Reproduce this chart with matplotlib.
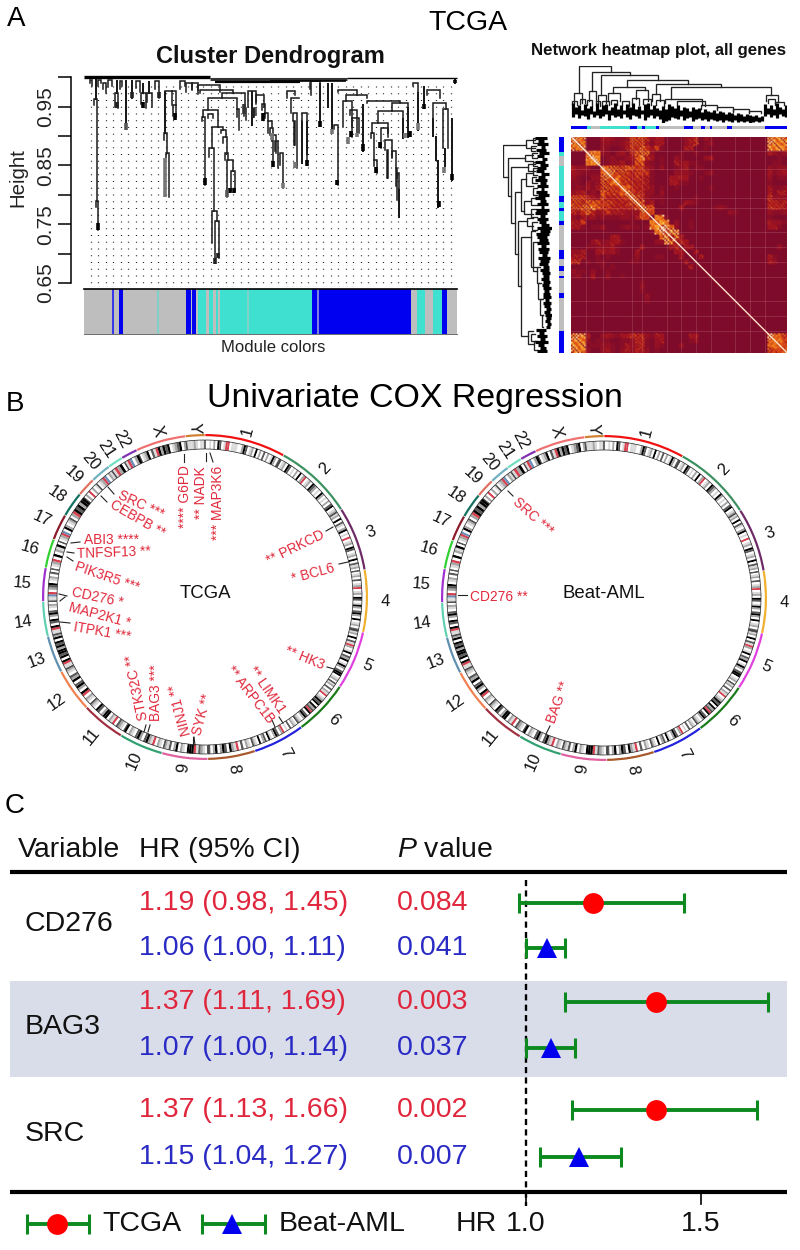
import numpy as np
import matplotlib
matplotlib.use("Agg")
import matplotlib.pyplot as plt
from matplotlib.colors import LinearSegmentedColormap

plt.rcParams['font.family'] = ['Liberation Sans', 'DejaVu Sans']
plt.rcParams['mathtext.fontset'] = 'custom'
plt.rcParams['mathtext.rm'] = 'Liberation Sans'
plt.rcParams['mathtext.it'] = 'Liberation Sans:italic'

W, H = 800, 1250
GRAY, TURQ, BLUE = '#BEBEBE', '#40E0D0', '#0000F0'

# ---------- panel A data: cluster dendrogram ----------
den_ticks = [0.65, 0.70, 0.75, 0.80, 0.85, 0.90, 0.95, 1.00]
den_ticklabels = ['0.65', '', '0.75', '', '0.85', '', '0.95', '']
# left leaf, right leaf, merge height, left end height, right end height
den_left = [
    (95.7,95.7,.997,.963,.963),(94.3,96.5,.963,.953,.789),(95.7,98.3,.789,.780,.740),
    (103,106,.990,.980,.973),(90,92,.995,.990,.986),(98,101,.996,.986,.990),
    (108,112,.995,.984,.986),(116.7,116.7,.995,.973,.973),(115,118,.973,.950,.947),
    (120,122,.993,.980,.985),(126,126,.995,.916,.916),(131.7,131.7,.995,.964,.964),
    (136,140,.993,.982,.975),(143.3,143.3,.990,.973,.973),(141,146,.973,.955,.947),
    (149,149,.993,.973,.973),(147,152,.973,.958,.950),(155,159,.993,.980,.964),
    (165,172,.976,.905,.976),(165,165,.976,.905,.905),(164,167.3,.905,.893,.871),
    (165.7,169,.871,.862,.797),(172,176,.976,.953,.953),(173,176,.953,.935,.933),
    (180,185,.993,.980,.985),(186,192,.990,.975,.980),(192,198,.990,.978,.972),
    (198,220,.987,.978,.975),(200,233,.978,.973,.973),(221.7,245,.973,.964,.947),
    (244,246,.947,.935,.928),(208.3,236.7,.964,.944,.946),(236.7,239.3,.946,.933,.910),
    (203.3,218.3,.944,.933,.916),(202.3,205,.933,.925,.817),(207.7,212.7,.938,.930,.930),
    (211.7,223.3,.916,.879,.910),(209.3,214,.879,.864,.772),(211.7,217.3,.772,.718,.755),
    (214.7,218.7,.755,.687,.692),(221,225.7,.910,.905,.899),(223.3,227.3,.899,.888,.871),
    (225,228.3,.871,.859,.860),(227.3,232.7,.860,.797,.840),(230.7,235,.840,.806,.806),
    (248,256,.976,.950,.955),(251.7,251.7,.976,.919,.919),(256,264,.970,.958,.950),
    (262,265,.955,.945,.938),(265,268,.940,.930,.925),(268,272,.925,.905,.915),
]
den_right = [
    (270,273.3,.913,.902,.851),(271.7,275.7,.902,.891,.871),(275,278.3,.891,.874,.845),
    (280,283,.872,.851,.811),(287,295,.976,.964,.970),(290.7,299.3,.964,.939,.964),
    (292.7,297.3,.939,.925,.845),(294,295.3,.925,.885,.885),(302.3,306.7,.939,.925,.854),
    (302.3,302.3,.925,.854,.854),(306.7,306.7,.925,.870,.870),(310,310,.980,.990,.980),
    (311,320,.993,.970,.973),(320,320,.990,.925,.925),(328,328,.990,.950,.950),
    (332.3,332.3,.990,.912,.912),(334.3,337.7,.919,.912,.817),(338.3,357.3,.979,.975,.970),
    (346,366.7,.970,.959,.964),(343.3,351.7,.959,.915,.899),(350,356.7,.944,.936,.905),
    (352,358.7,.930,.915,.905),(363.3,363.3,.955,.875,.875),(366.7,400,.960,.956,.956),
    (391.7,408.3,.956,.942,.950),(378.3,403.3,.942,.922,.930),(371.7,388.3,.922,.905,.905),
    (371,374,.905,.896,.860),(374,377,.860,.850,.837),(380.7,388.3,.913,.879,.899),
    (385,391.7,.893,.876,.865),(386.7,388,.876,.828,.828),(391.7,396,.875,.862,.845),
    (396,397.3,.845,.815,.828),(397.3,399,.837,.792,.792),(399,399.3,.810,.762,.762),
    (403.3,403.3,.930,.896,.896),(408.3,408.3,.950,.899,.899),(413,418,.990,.985,.970),
    (418.3,418.3,.975,.910,.910),(424,424,.985,.950,.950),(427,440,.978,.970,.965),
    (433.3,446,.956,.913,.946),(433.3,433.3,.930,.900,.900),(436,436,.900,.860,.860),
    (438,438,.860,.780,.780),(443,448,.946,.880,.880),(445,445,.880,.850,.850),
    (451.7,451.7,.930,.825,.825),(455,455,.999,.990,.990),
]
# leaf tip: position, upper height, lower height, darkness
den_tips = [(98.3,.752,.740,'k'),(116.7,.958,.947,'#222'),(126,.922,.910,'#555'),(131.7,.975,.964,'#222'),
            (143.3,.958,.947,'k'),(159,.975,.964,'#222'),(175,.940,.928,'k'),(165,.862,.797,'#777'),
            (204.5,.828,.817,'k'),(218,.702,.692,'#222'),(215,.692,.682,'#222'),(230,.812,.803,'k'),
            (233.5,.812,.803,'k'),(227,.808,.797,'#555'),(244,.955,.938,'#333'),(255,.950,.935,'#555'),
            (253,.948,.930,'#222'),(263,.940,.925,'k'),(272,.905,.893,'#777'),(273.5,.858,.848,'k'),
            (282.7,.820,.811,'#777'),(295,.856,.845,'#777'),(307,.860,.850,'k'),(320,.925,.915,'k'),
            (332.3,.912,.904,'#777'),(337,.826,.817,'k'),(348,.898,.886,'#777'),(351,.908,.898,'k'),
            (357,.905,.898,'#777'),(363.3,.886,.875,'k'),(376,.848,.838,'k'),(380.5,.890,.880,'k'),
            (405,.906,.896,'#777'),(410,.908,.899,'k'),(424,.955,.946,'k'),(418.3,.922,.910,'#777'),
            (439,.790,.780,'k'),(444.5,.848,.838,'#777'),(451.7,.836,.825,'k'),(455,.995,.990,'k')]
den_top_bars = [(84,210,1.0,'k',2.4),(210,347,.997,'#333',2.2),(347,457,.999,'k',1.0),(215,300,.992,'k',1.6),(270,346,.994,'k',1.2)]
den_guides_first, den_guides_step, den_guides_last = 90.7, 7.5, 458
den_bar = [(83.5,111.7,GRAY),(111.7,113.7,'#3838E8'),(113.7,118.7,GRAY),(118.7,122.7,BLUE),(122.7,156.7,GRAY),
           (156.7,159.3,'#7FD0C8'),(159.3,185.7,GRAY),(185.7,190.7,BLUE),(190.7,192,GRAY),(192,196,BLUE),
           (196,198.3,GRAY),(198.3,205.7,TURQ),(205.7,209.3,GRAY),(209.3,213.3,TURQ),(213.3,216,GRAY),
           (216,217.5,TURQ),(217.5,220,GRAY),(220,246.7,TURQ),(246.7,249,'#7FD0C8'),(249,311.7,TURQ),
           (311.7,316.7,BLUE),(316.7,319.3,'#8080E0'),(319.3,410.7,BLUE),(410.7,416.7,GRAY),(416.7,425,TURQ),
           (425,433.3,GRAY),(433.3,442.3,TURQ),(442.3,446.7,BLUE),(446.7,457.5,GRAY)]

# ---------- panel A data: network heatmap ----------
tom_rows = [
"8870002100 1255200300 0002300200 0000000000 7777",
"8880001100 1355200300 0002300100 0000000000 8778",
"7880002100 1354200500 0003300100 0000000000 8888",
"0008870102 3146610000 0010010000 0000000000 1000",
"0007990101 1236820010 0210000000 0000000000 0010",
"0008980122 3126610010 0300010000 0000000000 0110",
"3212007765 5665430020 0003001000 0000000000 1120",
"3200006775 4544330000 0200000100 0000000000 3003",
"2100206654 4545320000 3300001000 0000000000 2001",
"1100105587 5544320000 3300000000 0000000000 1000",
"1200014555 7754320010 0100000000 0000000000 3001",
"1101004455 5764320020 0000000000 0000000000 1002",
"2321023444 5675420100 0000010000 0000000000 4022",
"5531134544 4467620000 0000000000 0000000000 4434",
"5561235544 4446750000 0000000000 0000000000 4443",
"4356421533 3220663010 0000000000 0000000000 2112",
"2132312111 2213660020 0000000000 0000000000 1000",
"0010000000 0000008871 0200100000 0000000000 0010",
"3310000000 0011008981 0200000000 0000000000 3310",
"0000000000 0000001895 1000000000 0000000000 0000",
"0000000000 0000000078 3000000000 0000000000 0000",
"0000011000 0000000018 7300000000 0000000000 0000",
"0000022231 0000300000 3400000000 0000000000 0000",
"2000031231 0003000000 0330000000 0000000000 0000",
"3300010100 0002000010 0030000000 0000000000 3100",
"4400001000 0001000000 0003000000 0000000000 3200",
"0000000000 0000000000 0000300000 0000000000 0000",
"0100200100 0000000000 0000000000 0000000000 0000",
"1200300200 1000000000 0000000000 0000000000 0000",
"0000000000 0000100000 0000000000 0000000000 0000",
"0000000000 0000200000 0000000000 0000000000 0000",
"0000000000 0000100000 0000000000 0000000000 0000",
"0000000000 0000020000 0000000000 0000000000 0000",
"0000000000 0000010000 0000000000 0000000000 0000",
"0000000000 0000000000 0000000000 0000000000 0000",
"0000000000 0000000000 0000000000 0000000000 0000",
"0000000000 0000000000 0000000000 0000000000 0000",
"0000000000 0000000000 0000000000 0000000000 0000",
"0000000000 0000000000 0000000000 0000000000 0000",
"0000000000 0000000000 0000000000 0000000000 0000",
"7783002310 3322100300 0000000000 0000000000 8775",
"8882001100 1123200200 0000000000 0000000000 7886",
"8871001210 1312100200 0020000000 0000000000 6775",
"7772002310 2322200100 0000000000 0000000000 5667",
]
# hand-set speckle inside the coarse cells of the similarity map
tom_speckle = [
    [1.1, 0.4, 0.9, 0.3, 1.2, 0.6, 0.2, 1.0, 0.5, 1.2, 0.3],
    [0.3, 1.2, 0.5, 0.9, 0.2, 1.1, 0.8, 0.3, 1.2, 0.4, 0.9],
    [0.8, 0.2, 1.1, 0.6, 0.9, 0.3, 1.2, 0.5, 0.2, 1.0, 0.6],
    [0.2, 1.0, 0.3, 1.2, 0.4, 0.8, 0.3, 1.1, 0.7, 0.2, 1.2],
    [1.2, 0.6, 0.8, 0.2, 1.0, 0.3, 1.1, 0.2, 0.9, 0.6, 0.3],
    [0.5, 0.3, 1.2, 0.7, 0.3, 1.2, 0.4, 0.9, 0.3, 1.1, 0.8],
    [0.9, 1.1, 0.2, 1.0, 0.6, 0.2, 0.9, 0.6, 1.2, 0.3, 0.5],
]
tom_lines = [3.0, 6.5, 12.5, 14.5, 19.5, 22.5, 25.5, 28.5, 33.5, 36.5, 39.5]
tree_brackets = [
    (8,40,56.7,30,50.7),(3.3,11.3,30,20,20),(21.3,59,50.7,31.7,47.7),(18.3,24.7,31.7,22,22),
    (30,86.7,47.7,28.3,43.3),(27.3,34.7,28.3,20,20),(55.7,117.3,43.3,36,39.3),(42.3,74,36,30,32.7),
    (36.7,49,30,22,22),(64.7,77.3,32.7,24,22),(84.7,149.7,39.3,29.3,35.7),(81.3,89,29.3,22,22),
    (100,199.7,35.7,24,28.3),(194.7,207.3,28.3,22,22),(94,130.7,24,20,18),(105.7,134,21.7,18,17),
    (1,6,22,18,18),(9,14,24,19,20),(16,21,23,18,17),(25,29,22,18,17),(31,38,22,18,18),
    (40,46,23,19,18),(51,58,22,18,17),(61,68,25,19,18),(72,80,24,19,18),(85,93,23,18,17),
    (130,146,18,14,15),(146,162,16,13,12),(162,178,14,11,11),(178,190,12,10,10),(197,204,24,20,20),(204,213,21,18,18),
]
leaf_top = [20,16,18,13,19,15,17,12,20,14,18,19,13,16,20,14,18,13,19,16,20,14,17,13,19,20,14,18,15,13,17,14,
            19,17,15,18,13,16,15,12,16,14,15,11,14,12,11,13,10,12,11,9,11,10,8,10,9,7,9,8,7,8,6,7,
            19,15,18,14,20,16,14,18]
leaf_bot = [6,9,5,8,7,4,9,6,8,5,7,9,3,8,6,7,5,9,6,4,8,7,5,9,3,6,8,5,7,4,0,2,
            3,6,5,4,7,3,5,6,2,4,5,3,4,2,4,3,2,3,1,3,2,1,3,1,2,1,2,0,1,2,1,2,
            7,9,6,8,5,9,7,6]
tree_bar = [(0,15.7,BLUE),(15.7,19.7,TURQ),(19.7,29,GRAY),(29,59,TURQ),(59,65.7,BLUE),(65.7,71.3,TURQ),
            (71.3,74,BLUE),(74,84.7,TURQ),(84.7,88,BLUE),(88,113,GRAY),(113,122.3,BLUE),(122.3,129.7,GRAY),
            (129.7,134.3,BLUE),(134.3,139,GRAY),(139,141.3,BLUE),(141.3,156.3,GRAY),(156.3,161.3,BLUE),
            (161.3,194,GRAY),(194,216,BLUE)]

# ---------- panel B data ----------
chrom_names = ['1','2','3','4','5','6','7','8','9','10','11','12','13','14','15','16','17','18','19','20','21','22','X','Y']
chrom_mb = [249,243,198,191,181,171,159,146,141,136,135,134,115,107,103,90,81,78,59,63,48,51,155,59]
chrom_colors = ['#F01010','#3C9060','#6E2A66','#F0B030','#E040E0','#1A7A1A','#2222DD','#A8582A','#E060A0','#30A070',
                '#A03040','#F08050','#5F90B0','#60D0B0','#A030D0','#30D030','#8B1A2B','#127060','#E07060','#70B0C0',
                '#70E0C0','#8030B0','#F07070','#D08030']
chrom_label_r = [171,176,178,180,176,178,176,174,172,178,180,182,180,183,183,182,181,180,179,178,178,178,172,169]
chrom_bands = [
 'wwlwgwkdwlrrwlllwwgkdwlgwkwgwdwgwlkgwd','wlgwkdwlwgwkwgrwlgwkdgwlwkgwlwgwdkwlg','lgwkwdlwgkwlwrwlgwkdwlgwkwdlgw',
 'wlgwdwlgrwlgwkdwlkgwdkgwkwlgwd','lgwkwdlrgwlkwdgkwlkgwdkkwlgw','lgwdwglrwlgkdkwkgdrkwdkgwlg',
 'wlgwdwlwrgwdkgwlkwdgwkwlg','wlgwdwrlgkwdkgwkgwd','wlgdlrkkkwlgwkgwdlg','wlgwrlgkdwgkdwlgwk',
 'wlgdwrlgwkkgwdkwlg','wlgwrkwgkdwkgdwlg','llrkwkdkkgkdkwkg','llrkwdkwgkdwlgw','llbrwgdkwlgwdw',
 'wlgrwkwglkw','wlgrbwkgwlg','wgrkdkgkk','wgwrwgwl','wlgrbwgl','lrgkw','lrbwgk',
 'wlgkwdlrkgkdkwlgdkwg','lllglwll']
genes_tcga = ['**** G6PD','** NADK','*** MAP3K6','SRC ***','CEBPB **','ABI3 ****','TNFSF13 **','PIK3R5 ***','CD276 *',
              'MAP2K1 *','ITPK1 ***','STK32C **','BAG3 ***','NINJ1 **','SYK **','** ARPC1B','** LIMK1','** HK3','** PRKCD','* BCL6']
genes_tcga_xy = [(185,497),(201,493),(218,503),(141,505),(137,519),(111,540),(114,553),(107,577),(97,598),(100,615),
                 (102,632),(137,687),(156,693),(180,710),(203,715),(250,695),(267,690),(305,658),(295,548),(313,573)]
genes_tcga_rot = [90,90,90,-25,-30,0,2,-19,-12,-15,-10,102,90,105,75,-52,-55,-22,26,15]
genes_tcga_link = [(184,454,184,462),(206,453,206,461),(210,453,213,462),(108,487,114,494),(101,496,107,502),
                   (71,543,80,542),(67,552,74,553),(67,557,73,561),(59,594,67,596),(60,601,65,597),(60,622,70,623),
                   (144,732,146,725),(148,732,150,725),(193,745,193,737),(195,745,194,737),(275,727,272,720),
                   (283,723,279,717),(334,669,327,667),(333,527,326,531),(348,562,339,564)]
genes_beat = ['SRC ***','CD276 **','BAG **']
genes_beat_xy = [(533,516),(499,597),(559,702)]
genes_beat_rot = [-42,0,70]
genes_beat_link = [(508,491,513,496),(458,595,467,595),(546,734,550,726)]

# ---------- panel C data ----------
variables = ['CD276', 'BAG3', 'SRC']
tcga_hr, tcga_lo, tcga_hi = [1.19, 1.37, 1.37], [0.98, 1.11, 1.13], [1.45, 1.69, 1.66]
tcga_p = ['0.084', '0.003', '0.002']
beat_hr, beat_lo, beat_hi = [1.06, 1.07, 1.15], [1.00, 1.00, 1.04], [1.11, 1.14, 1.27]
beat_p = ['0.041', '0.037', '0.007']
hr_ticks = [1.0, 1.5]

# ---------- layout helpers ----------
fig = plt.figure(figsize=(W/100, H/100), dpi=100, facecolor='white')
def box(x0, y0, x1, y1):
    return [x0/W, 1-y1/H, (x1-x0)/W, (y1-y0)/H]
pg = fig.add_axes([0, 0, 1, 1], zorder=5)
pg.set_xlim(0, W); pg.set_ylim(H, 0); pg.axis('off'); pg.patch.set_alpha(0)

def label(x, y, s, size, **kw):
    kw.setdefault('ha', 'center'); kw.setdefault('va', 'center')
    return pg.text(x, y, s, fontsize=size, **kw)

label(16, 19, 'A', 20); label(15, 404, 'B', 20); label(15, 806, 'C', 20)
label(468, 23, 'TCGA', 20.5)
label(415, 398, 'Univariate COX Regression', 24.4)
label(270, 57, 'Cluster Dendrogram', 17, fontweight='bold', color='#111111')
label(659, 51, 'Network heatmap plot, all genes', 12.1, fontweight='bold', color='#111111')
label(273, 347, 'Module colors', 12, color='#222222')

# ---------- dendrogram ----------
dn = fig.add_axes(box(83.5, 77.3, 457.5, 288.5))
dn.set_xlim(83.5, 457.5)
dn.set_ylim(1-(288.5-77.3)/588, 1.0)
for sp in dn.spines.values():
    sp.set_visible(False)
dn.set_xticks([]); dn.set_yticks([])
dn.patch.set_alpha(0)
for gx in np.arange(den_guides_first, den_guides_last, den_guides_step):
    dn.plot([gx, gx], [0.985, 0.64], color='#222222', lw=0.9, dashes=(0.8, 4.6), zorder=1)
for (xl, xr, h, bl, br) in den_left + den_right:
    dn.plot([xl, xl, xr, xr], [bl, h, h, br], color='#1a1a1a', lw=1.1, solid_joinstyle='miter', zorder=3)
for (x, t, b, c) in den_tips:
    dn.plot([x, x], [t, b], color=c, lw=2.6, solid_capstyle='butt', zorder=4)
for (x0, x1, h, c, lw) in den_top_bars:
    dn.plot([x0, x1], [h, h], color=c, lw=lw, solid_capstyle='butt', zorder=4, clip_on=False)

hax = fig.add_axes(box(71, 77.3, 72, 283))
hax.set_ylim(0.65, 1.0); hax.set_xlim(0, 1)
for sp in ['top', 'right', 'bottom']:
    hax.spines[sp].set_visible(False)
hax.spines['left'].set_linewidth(1.1)
hax.set_xticks([])
hax.set_yticks(den_ticks)
hax.set_yticklabels(den_ticklabels, rotation=90, va='center', fontsize=15, color='#222222')
hax.tick_params(axis='y', length=9.5, width=1.1, pad=2)
label(18, 178, 'Height', 14.7, rotation=90, color='#222222')

cb = fig.add_axes(box(83.5, 289, 457.5, 334))
cb.set_xlim(83.5, 457.5); cb.set_ylim(0, 1); cb.set_xticks([]); cb.set_yticks([])
for (a, b, c) in den_bar:
    cb.barh(0.5, b-a, left=a, height=1, color=c, linewidth=0)
for sp in ['left', 'right']:
    cb.spines[sp].set_visible(False)
cb.spines['top'].set_linewidth(1.2)
cb.spines['bottom'].set_linewidth(0.6); cb.spines['bottom'].set_color('#555555')

# ---------- heatmap ----------
tom = np.array([[int(c) for c in r.replace(' ', '')] for r in tom_rows], dtype=float)
tom = np.maximum(tom, tom.T)
rep = 3
fine = np.kron(tom, np.ones((rep, rep)))
sp_arr = np.array(tom_speckle)
reps = (fine.shape[0]//sp_arr.shape[0]+1, fine.shape[1]//sp_arr.shape[1]+1)
tile = np.tile(sp_arr, reps)[:fine.shape[0], :fine.shape[1]]
fine = fine*tile
fine = 0.5*(fine+fine.T)
cmap = LinearSegmentedColormap.from_list('tom', [(0, '#7F0B2B'), (0.28, '#A8161E'), (0.5, '#DB4A14'),
                                                (0.72, '#F59A25'), (0.9, '#FFD870'), (1, '#FFF4C0')])
hm = fig.add_axes(box(571, 136.7, 787, 352.7))
n = tom.shape[0]
hm.imshow(fine, cmap=cmap, vmin=0, vmax=9, extent=(0, n, n, 0), aspect='auto', interpolation='bilinear')
for v in tom_lines:
    hm.axvline(v, color='#E8A0A8', lw=0.7, alpha=0.2)
    hm.axhline(v, color='#E8A0A8', lw=0.7, alpha=0.2)
hm.plot([0, n], [0, n], color='#FFE0C8', lw=1.0)
hm.set_xlim(0, n); hm.set_ylim(n, 0); hm.axis('off')

leaf_x = np.linspace(1.5, 214.5, len(leaf_top))
def draw_tree(ax, flip):
    def line(xs, ys, **kw):
        if flip:
            ax.plot(ys, xs, **kw)
        else:
            ax.plot(xs, ys, **kw)
    for (xl, xr, h, bl, br) in tree_brackets:
        line([xl, xl, xr, xr], [bl, h, h, br], color='#222222', lw=0.95, solid_joinstyle='miter')
    for x, t, b in zip(leaf_x, leaf_top, leaf_bot):
        line([x, x], [t, b], color='black', lw=2.3, solid_capstyle='butt')

tt = fig.add_axes(box(571, 66, 787, 123))
tt.set_xlim(0, 216); tt.set_ylim(0, 57); tt.axis('off')
draw_tree(tt, False)
tl = fig.add_axes(box(503, 136.7, 552, 352.7))
tl.set_ylim(216, 0); tl.set_xlim(57, 0); tl.axis('off')
draw_tree(tl, True)

bt = fig.add_axes(box(571, 125.5, 787, 129.3))
bt.set_xlim(0, 216); bt.set_ylim(0, 1); bt.axis('off')
bl_ = fig.add_axes(box(559, 136.7, 563.7, 352.7))
bl_.set_ylim(216, 0); bl_.set_xlim(0, 1); bl_.axis('off')
for (a, b, c) in tree_bar:
    bt.barh(0.5, b-a, left=a, height=1, color=c, linewidth=0)
    bl_.bar(0.5, b-a, bottom=a, width=1, color=c, linewidth=0)

# ---------- circular plots ----------
band_colors = {'w': '#FFFFFF', 'l': '#D9D9D9', 'g': '#A6A6A6', 'd': '#5A5A5A', 'k': '#000000', 'r': '#D8404F', 'b': '#6A8FB8'}
def circos(cx, cy, center_text, genes, xy, rot, links):
    R = 192
    ax = fig.add_axes(box(cx-R, cy-R, cx+R, cy+R), projection='polar', zorder=2)
    ax.set_theta_zero_location('N'); ax.set_theta_direction(-1)
    ax.set_rlim(0, R); ax.axis('off'); ax.patch.set_alpha(0)
    mb = np.array(chrom_mb, dtype=float)
    scale = 2*np.pi/mb.sum()
    starts = np.concatenate([[0], np.cumsum(mb)[:-1]])*scale
    widths = mb*scale
    gap = 0.004
    for s, w, col, name, lab_r, bands in zip(starts, widths, chrom_colors, chrom_names, chrom_label_r, chrom_bands):
        ax.bar(s+w/2, 2.2, width=w-gap, bottom=160.8, color=col, linewidth=0, align='center')
        bw = (w-gap)/len(bands)
        for i, ch in enumerate(bands):
            ax.bar(s+gap/2+bw*(i+0.5), 9, width=bw, bottom=148, color=band_colors[ch], linewidth=0)
        ax.bar(s+w/2, 9, width=w-gap, bottom=148, color='none', edgecolor='#222222', linewidth=0.5)
        mid = s+w/2
        deg = np.degrees(mid)
        rotn = 90-deg if deg <= 180 else 270-deg
        ax.text(mid, lab_r, name, rotation=rotn, ha='center', va='center', rotation_mode='anchor',
                fontsize=12, color='#111111')
    for (s, (x, y), r, (x0, y0, x1, y1)) in zip(genes, xy, rot, links):
        pg.plot([x0, x1], [y0, y1], color='#222222', lw=0.8)
        label(x, y, s, 9.9, color='#E02A3C', rotation=r, rotation_mode='anchor')
    label(cx, cy-4, center_text, 13.4, color='#111111')

circos(205, 597, 'TCGA', genes_tcga, genes_tcga_xy, genes_tcga_rot, genes_tcga_link)
circos(604, 598, 'Beat-AML', genes_beat, genes_beat_xy, genes_beat_rot, genes_beat_link)

# ---------- forest table ----------
fx = fig.add_axes([0, 0, 1, 1], zorder=4)
PX = 350.0
fx.set_xlim(1-526/PX, 1+(W-526)/PX); fx.set_ylim(H, 0); fx.axis('off'); fx.patch.set_alpha(0)

pg.plot([10, 787], [872, 872], color='black', lw=3, solid_capstyle='butt')
pg.plot([10, 787], [1192, 1192], color='black', lw=3, solid_capstyle='butt')
fx.axhspan(980.5, 1076.5, xmin=10/W, xmax=787/W, color='#D9DDEA', linewidth=0, zorder=0)
fx.plot([1, 1], [880, 1206], color='black', lw=1.7, dashes=(2.6, 1.8), zorder=2)
for t in hr_ticks:
    fx.plot([t, t], [1192, 1204], color='black', lw=1.2, zorder=2)
GREEN = '#0C8A20'
RED_T, BLUE_T = '#E0263C', '#2A2AC4'
row_y = [(903, 948), (1002, 1048), (1110, 1157)]
name_y = [924, 1027, 1134]
FS = 20.5
for i, v in enumerate(variables):
    y1, y2 = row_y[i]
    fx.errorbar(tcga_hr[i], y1, xerr=[[tcga_hr[i]-tcga_lo[i]], [tcga_hi[i]-tcga_hr[i]]], fmt='none', ecolor=GREEN,
                elinewidth=2.8, capsize=7.5, capthick=2.2, zorder=3)
    fx.plot(tcga_hr[i], y1, 'o', color='#FF0000', ms=15, mew=0, zorder=4)
    fx.errorbar(beat_hr[i], y2, xerr=[[beat_hr[i]-beat_lo[i]], [beat_hi[i]-beat_hr[i]]], fmt='none', ecolor=GREEN,
                elinewidth=2.8, capsize=7.5, capthick=2.2, zorder=3)
    fx.plot(beat_hr[i], y2, '^', color='#0000EE', ms=15, mew=0, zorder=4)
    label(25, name_y[i], v, FS, ha='left', color='#111111')
    label(139, y1, f'{tcga_hr[i]:.2f} ({tcga_lo[i]:.2f}, {tcga_hi[i]:.2f})', FS, ha='left', color=RED_T)
    label(139, y2, f'{beat_hr[i]:.2f} ({beat_lo[i]:.2f}, {beat_hi[i]:.2f})', FS, ha='left', color=BLUE_T)
    label(397, y1, tcga_p[i], FS, ha='left', color=RED_T)
    label(397, y2, beat_p[i], FS, ha='left', color=BLUE_T)
label(18, 850, 'Variable', FS, ha='left', color='#111111')
label(139, 850, 'HR (95% CI)', FS, ha='left', color='#111111')
label(397, 850, r'$\mathit{P}$ value', FS, ha='left', color='#111111')

# legend
for (x0, x1, xm, mk, col) in [(27, 89, 57, 'o', '#FF0000'), (202, 265, 232, '^', '#0000EE')]:
    pg.plot([x0, x1], [1224, 1224], color=GREEN, lw=2.8, solid_capstyle='butt')
    pg.plot([x0, x0], [1214, 1234], color=GREEN, lw=2.2, solid_capstyle='butt')
    pg.plot([x1, x1], [1214, 1234], color=GREEN, lw=2.2, solid_capstyle='butt')
    pg.plot(xm, 1224, mk, color=col, ms=15, mew=0)
label(102, 1224, 'TCGA', FS, ha='left', color='#111111')
label(279, 1224, 'Beat-AML', FS, ha='left', color='#111111')
label(456, 1224, 'HR', FS, ha='left', color='#111111')
label(526, 1224, f'{hr_ticks[0]:.1f}', FS, color='#111111')
label(701, 1224, f'{hr_ticks[1]:.1f}', FS, color='#111111')

fig.savefig('out.png', dpi=100)
